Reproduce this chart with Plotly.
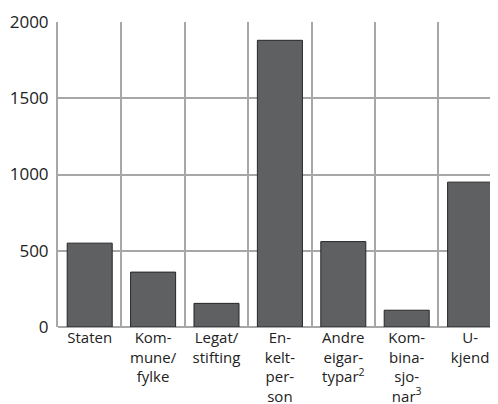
import plotly.graph_objects as go

categories = [
    "Staten",
    "Kom-<br>mune/<br>fylke",
    "Legat/<br>stifting",
    "En-<br>kelt-<br>per-<br>son",
    "Andre<br>eigar-<br>typar<sup>2</sup>",
    "Kom-<br>bina-<br>sjo-<br>nar<sup>3</sup>",
    "U-<br>kjend",
]
values = [550, 360, 155, 1880, 560, 110, 950]
y_ticks = [0, 500, 1000, 1500, 2000]

grid_col = "#a7a7a7"
font_family = "Open Sans, Noto Sans, sans-serif"

fig = go.Figure(
    go.Bar(
        x=categories,
        y=values,
        width=0.71,
        marker=dict(color="#5f6062", line=dict(color="#262626", width=1)),
    )
)

# page body has an 8px default margin, so the figure is offset by 8px
fig.update_layout(
    width=490,
    height=396,
    margin=dict(l=50, r=0, t=14, b=77, autoexpand=False),
    plot_bgcolor="white",
    paper_bgcolor="white",
    showlegend=False,
    font=dict(family=font_family, size=15, color="#222222"),
    bargap=0.29,
)

fig.update_xaxes(
    type="category",
    range=[-0.5, 6.44],
    tickson="boundaries",
    showgrid=True,
    gridcolor=grid_col,
    gridwidth=2,
    ticks="",
    ticklabelstandoff=0,
    tickfont=dict(size=15),
    showline=False,
    zeroline=False,
    automargin=False,
)

fig.update_yaxes(
    range=[0, 2000],
    tickvals=y_ticks,
    ticktext=[str(v) for v in y_ticks],
    showgrid=True,
    gridcolor=grid_col,
    gridwidth=2,
    zeroline=True,
    zerolinecolor=grid_col,
    zerolinewidth=2,
    showline=True,
    linecolor=grid_col,
    linewidth=2,
    ticks="",
    tickfont=dict(size=17),
    ticklabelstandoff=4,
    automargin=False,
)

fig.write_html("out.html")
